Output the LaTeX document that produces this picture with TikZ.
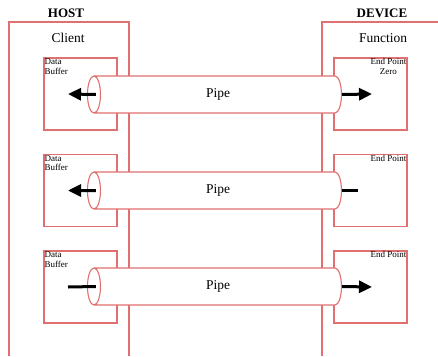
\documentclass[tikz,border=0pt]{standalone}
\usepackage{fontspec}
\setmainfont{Liberation Serif}
\usepackage{tikz}
\usetikzlibrary{arrows.meta}
\usetikzlibrary{shapes.geometric}

\definecolor{linered}{RGB}{224,112,112}

\begin{document}
\begin{tikzpicture}[x=1pt, y=-1pt,
		box/.style={draw=linered, line width=1.1pt, rectangle, minimum width=73pt, minimum height=72pt, inner sep=0pt},
		pipe/.style={draw=linered, line width=1.1pt, fill=white, cylinder, shape border rotate=180, aspect=1.1, minimum width=37pt, minimum height=254pt, inner sep=0pt, font=\fontsize{13.5}{15}\selectfont},
		boxtext/.style={font=\fontsize{9}{9.5}\selectfont, inner sep=1pt},
		flow/.style={line width=3pt, -{Triangle[length=13pt, width=12pt]}},
		stub/.style={line width=3pt}]
	\useasboundingbox (0,0) rectangle (438,356);
	\fill[white] (0,0) rectangle (438,356);

	% host and device sides
	\node[font=\bfseries\fontsize{13}{15}\selectfont] (host) at (66,13) {HOST};
	\node[font=\bfseries\fontsize{13}{15}\selectfont] (device) at (382,13) {DEVICE};
	\node[font=\fontsize{13.5}{15}\selectfont] (client) at (68,38) {Client};
	\node[font=\fontsize{13.5}{15}\selectfont] (function) at (383,38) {Function};
	\draw[draw=linered, line width=1.1pt] (9,356) -- (9,22) -- (129,22) -- (129,356);
	\draw[draw=linered, line width=1.1pt] (322,356) -- (322,22) -- (438,22);

	% buffers and end points
	\node[box, label={[boxtext, anchor=north west, align=left]north west:{Data\\Buffer}}] (buf1) at (80.5,94) {};
	\node[box, label={[boxtext, anchor=north west, align=left]north west:{Data\\Buffer}}] (buf2) at (80.5,190.5) {};
	\node[box, label={[boxtext, anchor=north west, align=left]north west:{Data\\Buffer}}] (buf3) at (80.5,287) {};
	\node[box, label={[boxtext, anchor=north east, align=center]north east:{End Point\\Zero}}] (ep0) at (370.5,94) {};
	\node[box, label={[boxtext, anchor=north east, align=center]north east:{End Point}}] (ep1) at (370.5,190.5) {};
	\node[box, label={[boxtext, anchor=north east, align=center]north east:{End Point}}] (ep2) at (370.5,287) {};

	% pipes
	\node[pipe] (pipe1) at (218,94.5) {Pipe};
	\node[pipe] (pipe2) at (218,190.5) {Pipe};
	\node[pipe] (pipe3) at (218,286.5) {Pipe};

	% flow ends
	\coordinate (in1) at ([xshift=9pt]pipe1.west);
	\coordinate (in2) at ([xshift=9pt]pipe2.west);
	\coordinate (in3) at ([xshift=9pt]pipe3.west);
	\coordinate (buf1end) at ([xshift=-12.5pt]buf1.center);
	\coordinate (buf2end) at ([xshift=-12.5pt]buf2.center);
	\coordinate (buf3end) at ([xshift=-12.5pt]buf3.center);
	\coordinate (ep0end) at ([xshift=1.5pt]ep0.center);
	\coordinate (ep1end) at ([xshift=-12.5pt]ep1.center);
	\coordinate (ep2end) at ([xshift=1.5pt]ep2.center);

	\draw[flow] (in1) -- (buf1end);
	\draw[flow] (pipe1.east) -- (ep0end);
	\draw[flow] (in2) -- (buf2end);
	\draw[stub] (pipe2.east) -- (ep1end);
	\draw[stub] (buf3end) -- (in3);
	\draw[flow] (pipe3.east) -- (ep2end);
\end{tikzpicture}
\end{document}
